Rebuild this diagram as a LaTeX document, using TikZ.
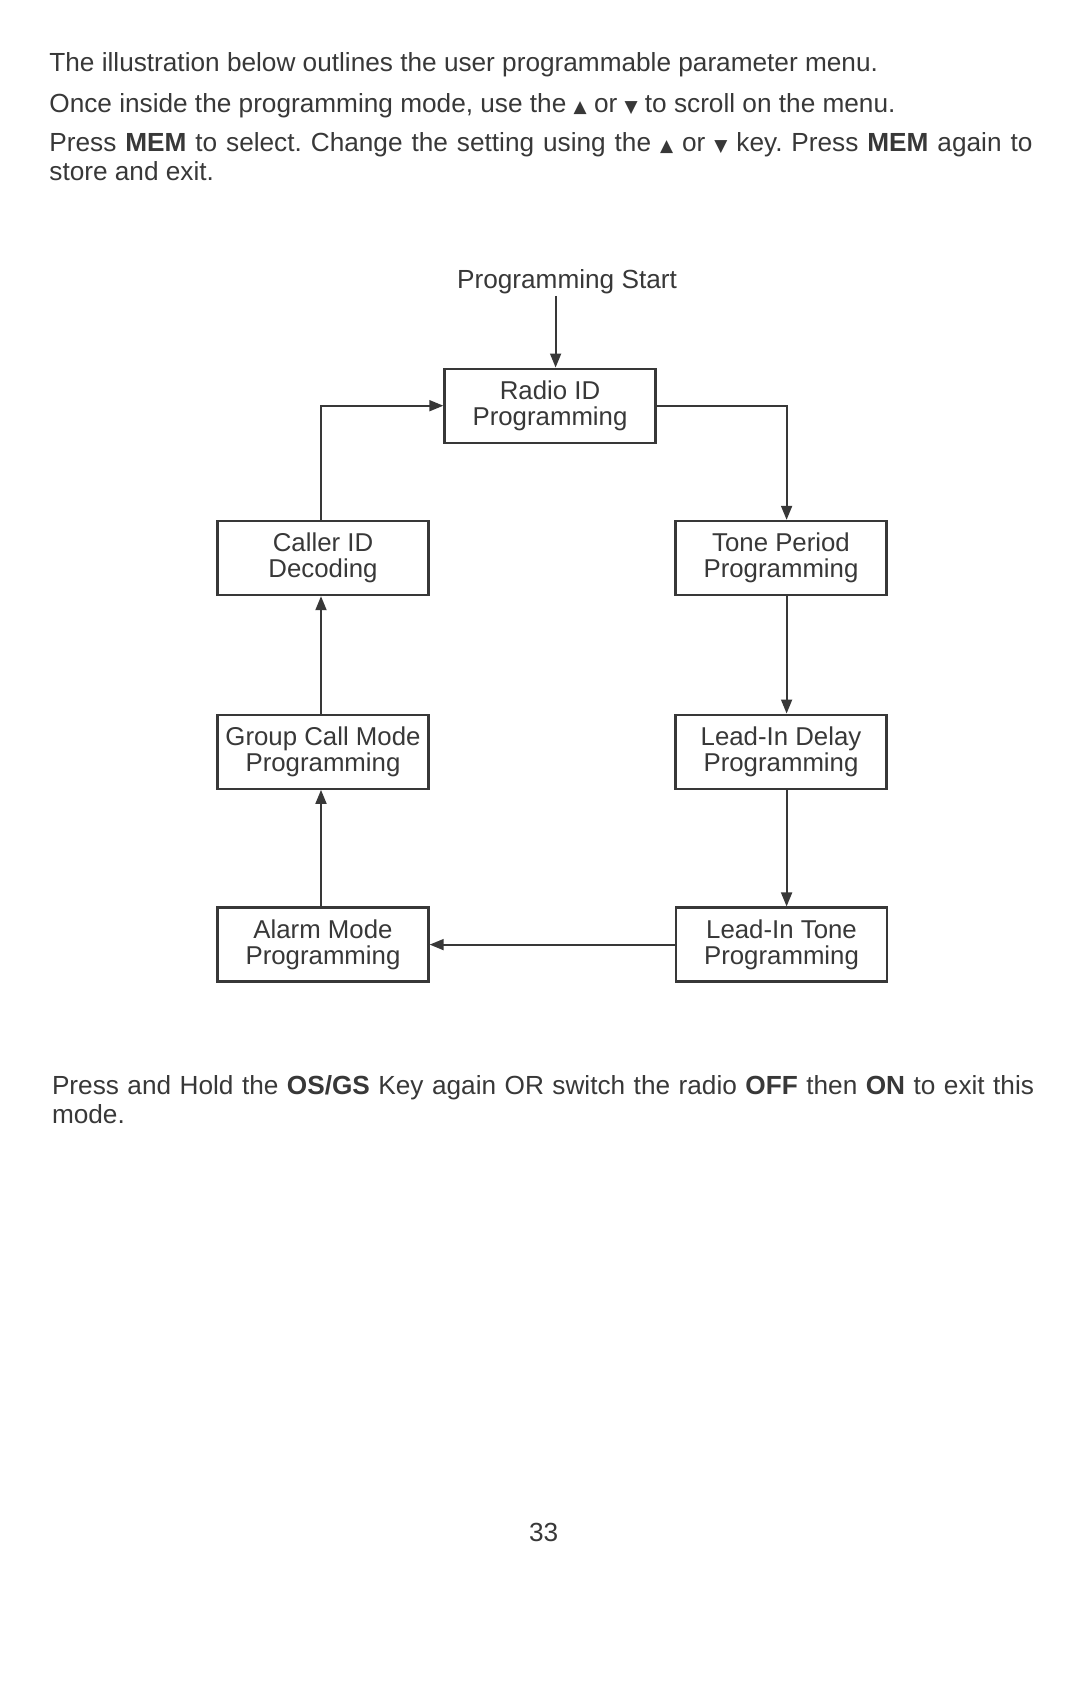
\documentclass[tikz,border=0pt]{standalone}
\usepackage{fontspec}
\setmainfont{Liberation Sans}
\newfontfamily\symfont{DejaVu Sans}
\usetikzlibrary{arrows.meta}
\definecolor{ink}{gray}{0.22}
\newcommand\upt{{\symfont\fontsize{8.5}{8.5}\selectfont ▲}}
\newcommand\dnt{{\symfont\fontsize{8.5}{8.5}\selectfont ▼}}
\frenchspacing
\tikzset{
  txt/.style={anchor=base west, inner sep=0pt, font=\fontsize{13.1}{14.5}\selectfont, text=ink},
  box/.style={draw=ink, line width=1.2pt, minimum width=105.5pt, minimum height=37pt,
    align=center, inner sep=0pt, font=\fontsize{12.9}{13}\selectfont, text=ink},
  conn/.style={draw=ink, line width=0.9pt, -{Triangle[length=7pt,width=5.5pt]}}
}
\begin{document}
\begin{tikzpicture}[x=0.5pt,y=-0.5pt]
\fill[white] (0,0) rectangle (1080,1685);
\useasboundingbox (0,0) rectangle (1080,1685);

\node[txt] (t1) at (49,72) {The illustration below outlines the user programmable parameter menu.};
\node[txt] (t2) at (49,113) {Once inside the programming mode, use the \upt{} or \dnt{} to scroll on the menu.};
\node[txt] (t3) at (49,151.5) {\makebox[491.5pt][s]{Press \textbf{MEM} to select. Change the setting using the \upt{} or \dnt{} key. Press \textbf{MEM} again to}};
\node[txt] (t4) at (49,180.5) {store and exit.};

\node[txt, anchor=base, inner sep=1pt] (start) at (567,288) {Programming Start};

\node[box] (radio) at (550,405.7) {Radio ID\\Programming};
\node[box] (caller) at (323,558) {Caller ID\\Decoding};
\node[box] (tone) at (781,558) {Tone Period\\Programming};
\node[box] (group) at (323,751.7) {Group Call Mode\\Programming};
\node[box] (delay) at (781,751.7) {Lead-In Delay\\Programming};
\node[box] (alarm) at (323,944.6) {Alarm Mode\\Programming};
\node[box] (ltone) at (781.5,944.6) {Lead-In Tone\\Programming};

\coordinate (rx) at (786.6,0);
\coordinate (lx) at (321,0);
\coordinate (sx) at (555.6,0);

\draw[conn] (start.south -| sx) -- (radio.north -| sx);
\draw[conn] (caller.north -| lx) |- (radio.west);
\draw[conn] (radio.east) -| (tone.north -| rx);
\draw[conn] (tone.south -| rx) -- (delay.north -| rx);
\draw[conn] (delay.south -| rx) -- (ltone.north -| rx);
\draw[conn] (ltone.west) -- (alarm.east);
\draw[conn] (alarm.north -| lx) -- (group.south -| lx);
\draw[conn] (group.north -| lx) -- (caller.south -| lx);

\node[txt] (b1) at (51.6,1094) {\makebox[491pt][s]{Press and Hold the \textbf{OS/GS} Key again OR switch the radio \textbf{OFF} then \textbf{ON} to exit this}};
\node[txt] (b2) at (51.6,1123) {mode.};

\node[txt, anchor=base] (pg) at (543.7,1541) {33};
\end{tikzpicture}
\end{document}
